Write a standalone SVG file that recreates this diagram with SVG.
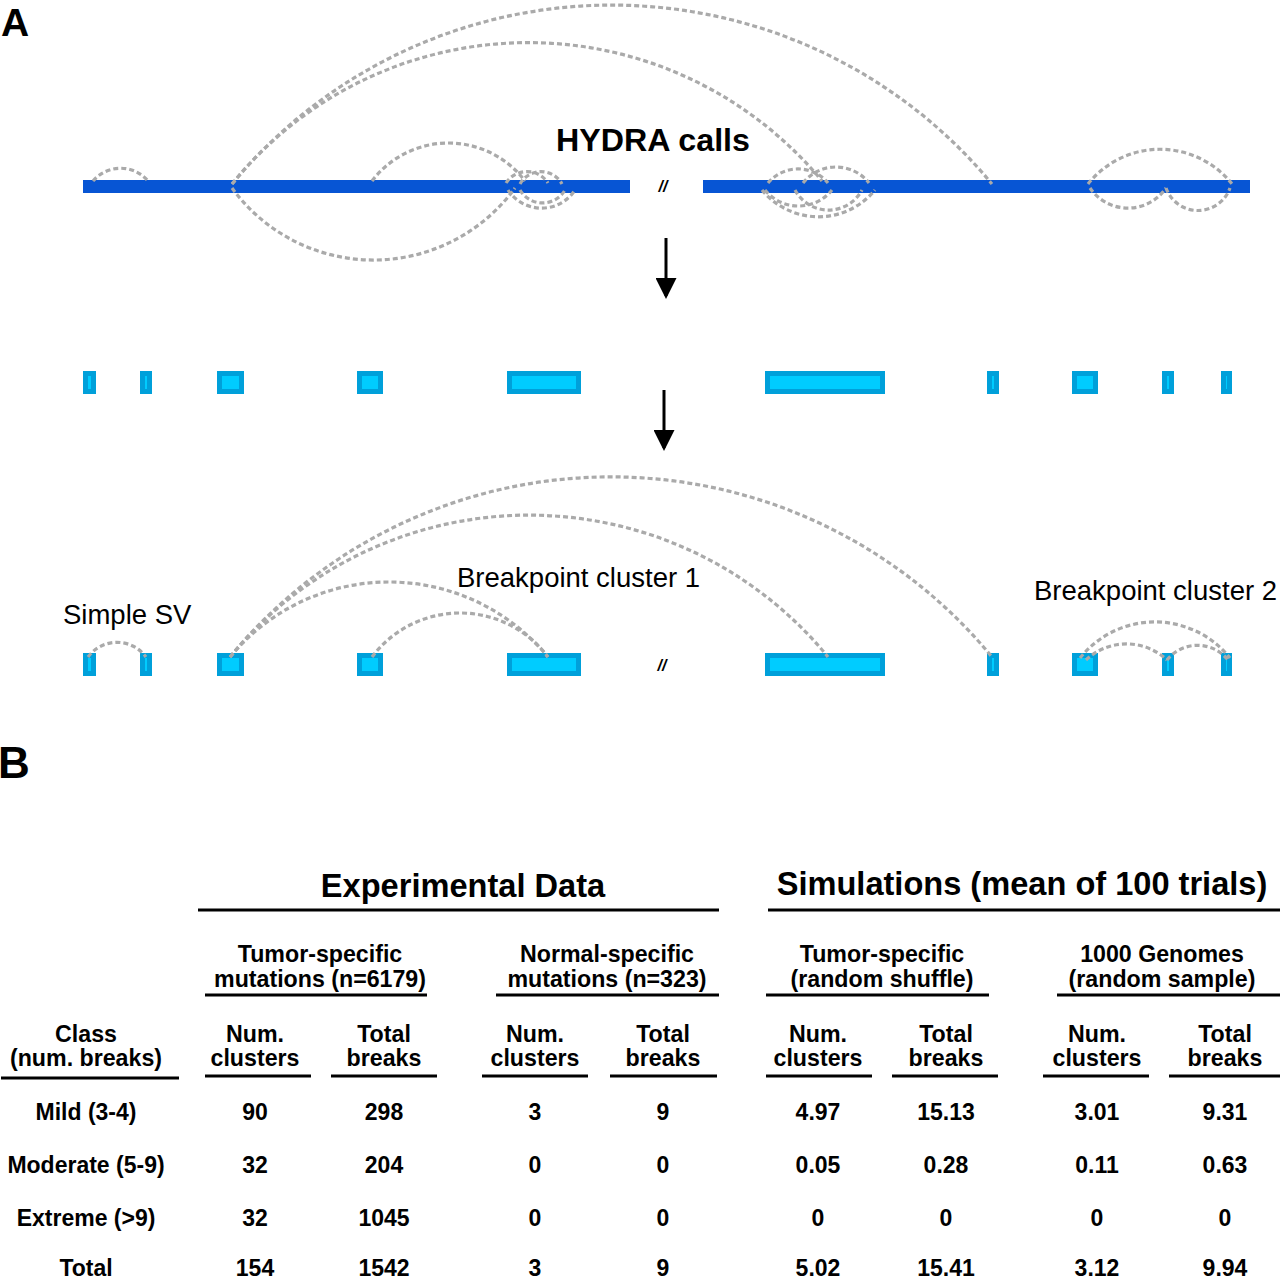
<svg xmlns="http://www.w3.org/2000/svg" width="1280" height="1280" viewBox="0 0 1280 1280">
<style>
text{font-family:"Liberation Sans",Arial,Helvetica,sans-serif;fill:#000}
.b{font-weight:bold}
.lab{font-size:27.5px}
.th{font-size:23.2px;font-weight:bold;text-anchor:middle}
.td{font-size:23px;font-weight:bold;text-anchor:middle}
.big{font-size:32.6px;font-weight:bold}
.bar{fill:#0755d4}
.box{fill:#00ccff;stroke:#00a0da;stroke-width:5}
.arc{fill:none;stroke:#aaaaaa;stroke-width:3.2;stroke-dasharray:5 3}
.rule{stroke:#000;stroke-width:3}
.brk{font-size:16px;font-weight:bold;font-style:italic;text-anchor:middle}
</style>
<defs>
<marker id="ah" markerWidth="7" markerHeight="7" refX="6" refY="3.5" orient="auto" markerUnits="strokeWidth">
<path d="M0,0 L7,3.5 L0,7 z" fill="#000"/>
</marker>
</defs>
<rect width="1280" height="1280" fill="#fff"/>

<text class="b" x="1" y="36" font-size="39">A</text>
<text class="b" x="-2" y="778" font-size="44">B</text>

<!-- Top chromosome bars -->
<g id="bar-left"><rect class="bar" x="83" y="180" width="547" height="13"/></g>
<g id="bar-right"><rect class="bar" x="703" y="180" width="547" height="13"/></g>
<text class="brk" x="663" y="192">//</text>
<text class="b" x="556" y="151" font-size="31" textLength="194" lengthAdjust="spacingAndGlyphs">HYDRA calls</text>

<!-- middle row boxes -->
<g id="mid-boxes">
<g id="m1"><rect class="box" x="85.5" y="373.5" width="8" height="18"/></g>
<g id="m2"><rect class="box" x="142.5" y="373.5" width="7" height="18"/></g>
<g id="m3"><rect class="box" x="219.5" y="373.5" width="22" height="18"/></g>
<g id="m4"><rect class="box" x="359.5" y="373.5" width="21" height="18"/></g>
<g id="m5"><rect class="box" x="509.5" y="373.5" width="69" height="18"/></g>
<g id="m6"><rect class="box" x="767.5" y="373.5" width="115" height="18"/></g>
<g id="m7"><rect class="box" x="989.5" y="373.5" width="7" height="18"/></g>
<g id="m8"><rect class="box" x="1074.5" y="373.5" width="21" height="18"/></g>
<g id="m9"><rect class="box" x="1164.5" y="373.5" width="7" height="18"/></g>
<g id="m10"><rect class="box" x="1223.5" y="373.5" width="6" height="18"/></g>
</g>

<!-- bottom row boxes -->
<g id="bot-boxes">
<g id="n1"><rect class="box" x="85.5" y="655.5" width="8" height="18"/></g>
<g id="n2"><rect class="box" x="142.5" y="655.5" width="7" height="18"/></g>
<g id="n3"><rect class="box" x="219.5" y="655.5" width="22" height="18"/></g>
<g id="n4"><rect class="box" x="359.5" y="655.5" width="21" height="18"/></g>
<g id="n5"><rect class="box" x="509.5" y="655.5" width="69" height="18"/></g>
<g id="n6"><rect class="box" x="767.5" y="655.5" width="115" height="18"/></g>
<g id="n7"><rect class="box" x="989.5" y="655.5" width="7" height="18"/></g>
<g id="n8"><rect class="box" x="1074.5" y="655.5" width="21" height="18"/></g>
<g id="n9"><rect class="box" x="1164.5" y="655.5" width="7" height="18"/></g>
<g id="n10"><rect class="box" x="1223.5" y="655.5" width="6" height="18"/></g>
</g>
<text class="brk" x="662" y="671">//</text>

<text class="lab" x="63" y="624">Simple SV</text>
<text class="lab" x="457" y="587">Breakpoint cluster 1</text>
<text class="lab" x="1034" y="600">Breakpoint cluster 2</text>

<!-- connectors -->
<g id="connectors">
<!-- top -->
<path class="arc" d="M93,181 A36,36 0 0 1 148,181"/>
<path class="arc" d="M232,184 A493,493 0 0 1 992,184"/>
<path class="arc" d="M232,184 A381,381 0 0 1 822,181"/>
<path class="arc" d="M372,181 A96,96 0 0 1 525,181"/>
<path class="arc" d="M232,188 A175,175 0 0 0 515,188"/>
<path class="arc" d="M506,183 A25,25 0 0 1 548,183"/>
<path class="arc" d="M520,184 A24,24 0 0 1 562,184"/>
<path class="arc" d="M508,190 A40,40 0 0 0 575,190"/>
<path class="arc" d="M520,190 A26,26 0 0 0 565,190"/>
<path class="arc" d="M768,183 A39,39 0 0 1 828,183"/>
<path class="arc" d="M803,183 A42,42 0 0 1 869,183"/>
<path class="arc" d="M762,190 A73,73 0 0 0 875,190"/>
<path class="arc" d="M765,190 A43,43 0 0 0 832,190"/>
<path class="arc" d="M795,190 A38,38 0 0 0 862,190"/>
<path class="arc" d="M1088,184 A92,92 0 0 1 1232,184"/>
<path class="arc" d="M1090,188 A46,46 0 0 0 1166,188"/>
<path class="arc" d="M1166,188 A34,34 0 0 0 1230,188"/>
<!-- arrows -->
<line x1="666" y1="238" x2="666" y2="296" stroke="#000" stroke-width="3" marker-end="url(#ah)"/>
<line x1="664" y1="390" x2="664" y2="448" stroke="#000" stroke-width="3" marker-end="url(#ah)"/>
<!-- bottom -->
<path class="arc" d="M88,657 A36,36 0 0 1 146,657"/>
<path class="arc" d="M230,657 A493,493 0 0 1 992,657"/>
<path class="arc" d="M230,657 A386,386 0 0 1 828,657"/>
<path class="arc" d="M230,657 A206,206 0 0 1 548,657"/>
<path class="arc" d="M372,657 A110,110 0 0 1 548,657"/>
<path class="arc" d="M1080,658 A96,96 0 0 1 1230,658"/>
<path class="arc" d="M1086,660 A59,59 0 0 1 1167,660"/>
<path class="arc" d="M1167,660 A39,39 0 0 1 1228,660"/>
</g>

<!-- Table -->
<g id="table">
<text class="big" x="463" y="897" text-anchor="middle">Experimental Data</text>
<text class="big" x="1022" y="895" text-anchor="middle">Simulations (mean of 100 trials)</text>
<line class="rule" x1="198" y1="910" x2="719" y2="910"/>
<line class="rule" x1="768" y1="910" x2="1280" y2="910"/>

<text class="th" x="320" y="962">Tumor-specific</text>
<text class="th" x="320" y="987">mutations (n=6179)</text>
<text class="th" x="607" y="962">Normal-specific</text>
<text class="th" x="607" y="987">mutations (n=323)</text>
<text class="th" x="882" y="962">Tumor-specific</text>
<text class="th" x="882" y="987">(random shuffle)</text>
<text class="th" x="1162" y="962">1000 Genomes</text>
<text class="th" x="1162" y="987">(random sample)</text>
<line class="rule" x1="205" y1="995" x2="427" y2="995"/>
<line class="rule" x1="496" y1="995" x2="719" y2="995"/>
<line class="rule" x1="766" y1="995" x2="989" y2="995"/>
<line class="rule" x1="1057" y1="995" x2="1280" y2="995"/>

<text class="th" x="86" y="1042">Class</text>
<text class="th" x="86" y="1066">(num. breaks)</text>
<text class="th" x="255" y="1042">Num.</text>
<text class="th" x="255" y="1066">clusters</text>
<text class="th" x="384" y="1042">Total</text>
<text class="th" x="384" y="1066">breaks</text>
<text class="th" x="535" y="1042">Num.</text>
<text class="th" x="535" y="1066">clusters</text>
<text class="th" x="663" y="1042">Total</text>
<text class="th" x="663" y="1066">breaks</text>
<text class="th" x="818" y="1042">Num.</text>
<text class="th" x="818" y="1066">clusters</text>
<text class="th" x="946" y="1042">Total</text>
<text class="th" x="946" y="1066">breaks</text>
<text class="th" x="1097" y="1042">Num.</text>
<text class="th" x="1097" y="1066">clusters</text>
<text class="th" x="1225" y="1042">Total</text>
<text class="th" x="1225" y="1066">breaks</text>
<line class="rule" x1="1" y1="1078" x2="179" y2="1078"/>
<line class="rule" x1="205" y1="1076" x2="311" y2="1076"/>
<line class="rule" x1="331" y1="1076" x2="437" y2="1076"/>
<line class="rule" x1="482" y1="1076" x2="588" y2="1076"/>
<line class="rule" x1="610" y1="1076" x2="717" y2="1076"/>
<line class="rule" x1="766" y1="1076" x2="872" y2="1076"/>
<line class="rule" x1="892" y1="1076" x2="998" y2="1076"/>
<line class="rule" x1="1043" y1="1076" x2="1149" y2="1076"/>
<line class="rule" x1="1169" y1="1076" x2="1280" y2="1076"/>

<g id="row-mild">
<text class="td" x="86" y="1120">Mild (3-4)</text>
<text class="td" x="255" y="1120">90</text>
<text class="td" x="384" y="1120">298</text>
<text class="td" x="535" y="1120">3</text>
<text class="td" x="663" y="1120">9</text>
<text class="td" x="818" y="1120">4.97</text>
<text class="td" x="946" y="1120">15.13</text>
<text class="td" x="1097" y="1120">3.01</text>
<text class="td" x="1225" y="1120">9.31</text>
</g>
<g id="row-moderate">
<text class="td" x="86" y="1173">Moderate (5-9)</text>
<text class="td" x="255" y="1173">32</text>
<text class="td" x="384" y="1173">204</text>
<text class="td" x="535" y="1173">0</text>
<text class="td" x="663" y="1173">0</text>
<text class="td" x="818" y="1173">0.05</text>
<text class="td" x="946" y="1173">0.28</text>
<text class="td" x="1097" y="1173">0.11</text>
<text class="td" x="1225" y="1173">0.63</text>
</g>
<g id="row-extreme">
<text class="td" x="86" y="1226">Extreme (&gt;9)</text>
<text class="td" x="255" y="1226">32</text>
<text class="td" x="384" y="1226">1045</text>
<text class="td" x="535" y="1226">0</text>
<text class="td" x="663" y="1226">0</text>
<text class="td" x="818" y="1226">0</text>
<text class="td" x="946" y="1226">0</text>
<text class="td" x="1097" y="1226">0</text>
<text class="td" x="1225" y="1226">0</text>
</g>
<g id="row-total">
<text class="td" x="86" y="1276">Total</text>
<text class="td" x="255" y="1276">154</text>
<text class="td" x="384" y="1276">1542</text>
<text class="td" x="535" y="1276">3</text>
<text class="td" x="663" y="1276">9</text>
<text class="td" x="818" y="1276">5.02</text>
<text class="td" x="946" y="1276">15.41</text>
<text class="td" x="1097" y="1276">3.12</text>
<text class="td" x="1225" y="1276">9.94</text>
</g>
</g>
</svg>
